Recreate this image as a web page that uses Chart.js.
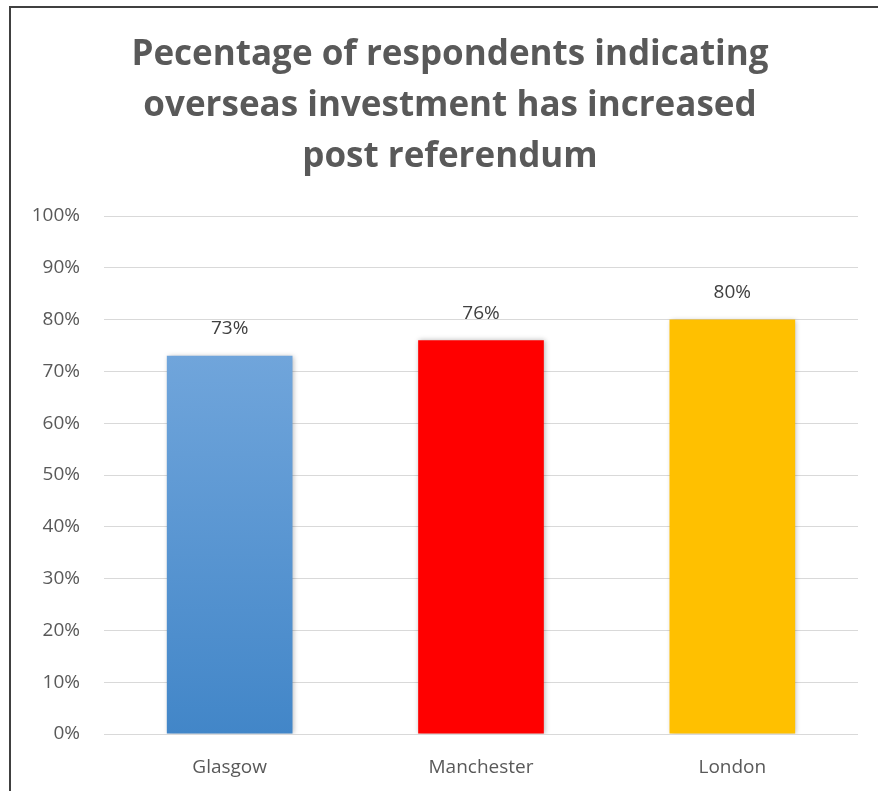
<!DOCTYPE html>
<html>
<head>
<meta charset="utf-8">
<script src="https://cdn.jsdelivr.net/npm/chart.js@4.4.1/dist/chart.umd.min.js"></script>
<style>
  html, body { margin: 0; padding: 0; background: #fff; }
  #wrap { position: relative; width: 878px; height: 791px; }
  #frame {
    position: absolute; left: 9px; top: 6px; right: -4px; bottom: -4px;
    border-left: 2px solid #404040; border-top: 2px solid #404040;
    pointer-events: none;
  }
</style>
</head>
<body>
<div id="wrap">
  <canvas id="chart" width="878" height="791"></canvas>
  <div id="frame"></div>
</div>
<script>
const cities = ['Glasgow', 'Manchester', 'London'];
const increased = [73, 76, 80];
const barColors = ['#5b9bd5', '#ff0000', '#ffc000'];
const titleLines = [
  'Pecentage of respondents indicating',
  'overseas investment has increased',
  'post referendum'
];

const grey = '#595959';

// Glasgow bar fades from a light blue at the top to a deeper blue at the base
function barFill(ctx) {
  const i = ctx.dataIndex;
  if (i !== 0) return barColors[i];
  const chart = ctx.chart;
  if (!chart.chartArea) return barColors[0];
  const yScale = chart.scales.y;
  const top = yScale.getPixelForValue(increased[0]);
  const bottom = yScale.getPixelForValue(0);
  const g = chart.ctx.createLinearGradient(0, top, 0, bottom);
  g.addColorStop(0, '#70a5db');
  g.addColorStop(1, '#4286c8');
  return g;
}

const barShadow = {
  id: 'barShadow',
  beforeDatasetsDraw(chart) {
    const c = chart.ctx;
    c.save();
    c.shadowColor = 'rgba(0,0,0,0.28)';
    c.shadowBlur = 5;
    c.shadowOffsetX = 1;
    c.shadowOffsetY = 0;
  },
  afterDatasetsDraw(chart) {
    chart.ctx.restore();
  }
};

// three-line heading, centred a little right of the canvas middle
const heading = {
  id: 'heading',
  afterDraw(chart) {
    const c = chart.ctx;
    c.save();
    c.font = 'bold 35px "Open Sans"';
    c.fillStyle = grey;
    c.textAlign = 'center';
    c.textBaseline = 'middle';
    const cx = chart.width / 2 + 11;
    titleLines.forEach((line, i) => c.fillText(line, cx, 55 + i * 51));
    c.restore();
  }
};

const valueLabels = {
  id: 'valueLabels',
  afterDraw(chart) {
    const c = chart.ctx;
    c.save();
    c.font = '19px "Open Sans"';
    c.fillStyle = '#404040';
    c.textAlign = 'center';
    c.textBaseline = 'middle';
    chart.getDatasetMeta(0).data.forEach((bar, i) => {
      c.fillText(increased[i] + '%', bar.x, bar.y - 27);
    });
    c.restore();
  }
};

new Chart(document.getElementById('chart'), {
  type: 'bar',
  data: {
    labels: cities,
    datasets: [{
      data: increased,
      backgroundColor: barFill,
      barPercentage: 0.5,
      categoryPercentage: 1.0,
      borderWidth: 0
    }]
  },
  plugins: [barShadow, heading, valueLabels],
  options: {
    responsive: false,
    animation: false,
    layout: { padding: { left: 10, right: 20, top: 216, bottom: 0 } },
    plugins: {
      legend: { display: false },
      tooltip: { enabled: false },
      title: { display: false }
    },
    scales: {
      x: {
        grid: { display: false },
        border: { display: false },
        ticks: { color: grey, font: { family: '"Open Sans"', size: 19 }, padding: 14 },
        afterFit(s) { s.height = 57; }
      },
      y: {
        min: 0,
        max: 100,
        ticks: {
          stepSize: 10,
          color: grey,
          font: { family: '"Open Sans"', size: 19 },
          padding: 24,
          callback: v => v + '%'
        },
        grid: { color: '#d9d9d9', lineWidth: 1, drawTicks: false },
        border: { display: false },
        afterFit(s) { s.width = 94; }
      }
    }
  }
});
</script>
</body>
</html>
